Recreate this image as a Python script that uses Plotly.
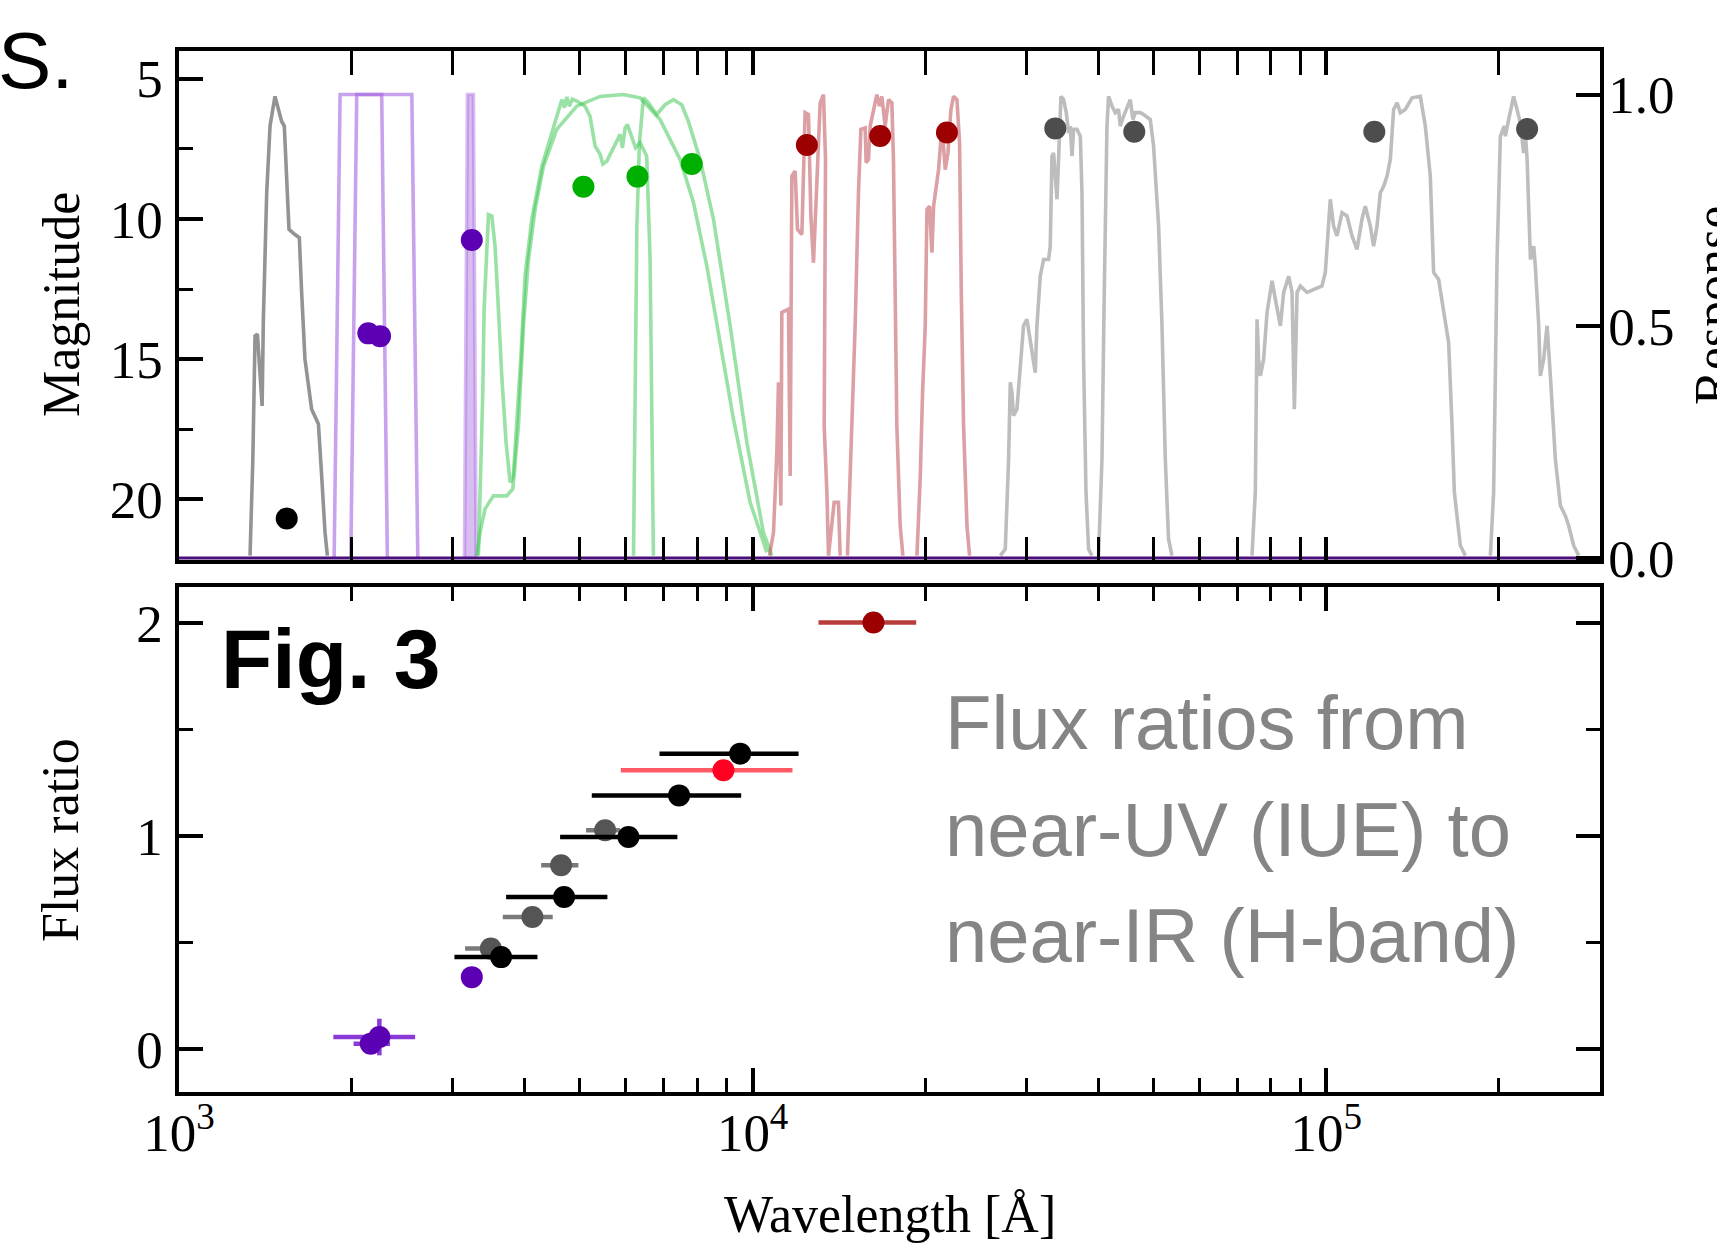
import numpy as np
import plotly.graph_objects as go

# ---------------- top panel: filter response curves (wavelength [A], response) ----------------
fuv_wl = [1330, 1345, 1357, 1370, 1396, 1403, 1422, 1441, 1470, 1490, 1510, 1526, 1541, 1555, 1593, 1621, 1636, 1658, 1703, 1750, 1773, 1797, 1814]
fuv_r = [0.005, 0.213, 0.479, 0.483, 0.328, 0.515, 0.788, 0.932, 0.996, 0.968, 0.942, 0.932, 0.802, 0.709, 0.698, 0.691, 0.573, 0.429, 0.321, 0.289, 0.177, 0.055, 0.005]

box1_wl = [1864, 1909, 2546, 2608]
box1_r = [0.0, 1.0, 1.0, 0.0]
box2_wl = [1993, 2041, 2256, 2308]
box2_r = [0.0, 1.0, 1.0, 0.0]
narrow_wl = [3145, 3183, 3260, 3296]
narrow_r = [0.0, 1.0, 1.0, 0.0]

bp_wl = [3326, 3358, 3385, 3403, 3440, 3463, 3510, 3556, 3604, 3653, 3717, 3777, 3827, 3879, 3943, 4011, 4121, 4290, 4494, 4648, 4700, 4743, 4790, 4850, 4936, 5104, 5207, 5313, 5421, 5480, 5568, 5640, 5718, 5800, 5874, 5930, 5993, 6050, 6155, 6250, 6364, 6537, 6626, 6670, 6714]
bp_r = [0.005, 0.177, 0.357, 0.537, 0.680, 0.741, 0.738, 0.673, 0.537, 0.393, 0.249, 0.163, 0.177, 0.285, 0.429, 0.608, 0.731, 0.845, 0.932, 0.989, 0.972, 0.995, 0.975, 0.990, 0.986, 0.975, 0.953, 0.889, 0.871, 0.850, 0.856, 0.872, 0.885, 0.900, 0.914, 0.885, 0.928, 0.935, 0.910, 0.885, 0.896, 0.867, 0.644, 0.357, 0.005]

rp_wl = [6199, 6240, 6283, 6348, 6451, 6582, 6805, 7035, 7275, 7523, 7727, 8098, 8544, 9137, 9770, 10442, 10801]
rp_r = [0.005, 0.357, 0.716, 0.896, 0.993, 0.982, 0.957, 0.978, 0.989, 0.978, 0.942, 0.860, 0.731, 0.501, 0.249, 0.055, 0.005]

g_wl = [3304, 3348, 3416, 3533, 3727, 3818, 3906, 3985, 4066, 4176, 4318, 4555, 4936, 5421, 5953, 6364, 6898, 7474, 7885, 8320, 8776, 9258, 9899, 10587]
g_r = [0.005, 0.055, 0.106, 0.134, 0.134, 0.149, 0.285, 0.501, 0.644, 0.752, 0.845, 0.925, 0.975, 0.996, 1.0, 0.993, 0.946, 0.860, 0.767, 0.630, 0.465, 0.300, 0.120, 0.012]

j_wl = [10698, 10872, 11021, 11092, 11199, 11243, 11547, 11625, 11705, 11860, 11972, 12184, 12346, 12512, 12634, 12765, 12904, 13113, 13289, 13397, 13327, 13471, 13559, 13870, 14113, 14208]
j_r = [0.005, 0.055, 0.228, 0.379, 0.113, 0.530, 0.537, 0.177, 0.824, 0.835, 0.709, 0.698, 0.961, 0.957, 0.738, 0.637, 0.774, 0.982, 1.0, 0.860, 0.285, 0.142, 0.005, 0.120, 0.120, 0.005]

h_wl = [14630, 14830, 15089, 15292, 15440, 15709, 15771, 15918, 16028, 16464, 16636, 16797, 17020, 17249, 17485, 17598, 17720, 17839, 18079, 18275]
h_r = [0.005, 0.213, 0.501, 0.788, 0.925, 0.928, 0.853, 0.860, 0.932, 1.0, 0.975, 0.996, 0.932, 0.989, 0.982, 0.860, 0.501, 0.285, 0.070, 0.005]

k_wl = [19338, 19598, 19779, 19994, 20129, 20343, 20536, 20673, 21091, 21380, 21667, 21898, 22166, 22397, 22704, 22946, 23104, 23318, 23637, 23884]
k_r = [0.005, 0.177, 0.357, 0.501, 0.752, 0.759, 0.659, 0.759, 0.838, 0.932, 0.838, 0.874, 0.968, 0.996, 0.989, 0.896, 0.573, 0.285, 0.070, 0.005]

w1_wl = [27019, 27566, 27937, 28125, 28314, 28500, 28886, 29662, 30070, 30476, 31093, 31301, 31722, 32148, 32799, 33020, 33249, 33464, 33922, 34142, 34473, 34833, 35212, 35539, 35785, 36032, 36265, 36761, 37255, 37506, 37748, 38114, 38511, 39040]
w1_r = [0.005, 0.019, 0.213, 0.379, 0.357, 0.307, 0.321, 0.501, 0.515, 0.465, 0.400, 0.501, 0.608, 0.644, 0.644, 0.673, 0.867, 0.874, 0.774, 0.860, 0.996, 0.989, 0.961, 0.917, 0.932, 0.867, 0.925, 0.925, 0.910, 0.788, 0.429, 0.142, 0.019, 0.005]

w2_wl = [40088, 40638, 41014, 41461, 41729, 42300, 42869, 43435, 43737, 44315, 45525, 46020, 46447, 47387, 48024, 49336, 49988, 51012, 51709, 52404, 53088, 53815]
w2_r = [0.005, 0.213, 0.573, 0.932, 0.996, 0.975, 0.961, 0.968, 0.932, 0.953, 0.989, 0.946, 0.961, 0.961, 0.957, 0.946, 0.889, 0.716, 0.501, 0.213, 0.041, 0.005]

w3_wl = [74215, 75213, 75735, 76209, 76737, 77767, 78831, 80430, 81514, 83163, 84281, 85985, 87160, 87968, 88925, 90120, 92581, 95705, 98281, 99609, 101625, 102970, 104400, 106515, 108670, 110870, 113110, 115400, 116950, 119320, 120920, 122570, 124220, 125890, 127610, 129300, 131030, 132850, 134610, 137330, 139150, 141080, 145850, 148800, 151810, 153850, 156970, 160150, 163390, 165660, 167190, 171250, 174750]
w3_r = [0.005, 0.142, 0.515, 0.429, 0.393, 0.429, 0.530, 0.598, 0.558, 0.501, 0.573, 0.608, 0.573, 0.321, 0.573, 0.587, 0.573, 0.580, 0.587, 0.616, 0.774, 0.716, 0.695, 0.745, 0.738, 0.695, 0.666, 0.731, 0.759, 0.716, 0.673, 0.716, 0.788, 0.802, 0.824, 0.860, 0.968, 0.982, 0.961, 0.968, 0.982, 0.993, 0.996, 0.932, 0.824, 0.616, 0.601, 0.537, 0.465, 0.285, 0.142, 0.027, 0.005]

w4_wl = [193200, 195760, 198440, 199720, 201100, 204200, 205150, 207900, 212100, 215000, 217900, 220800, 222300, 223900, 226900, 229900, 231400, 234600, 236100, 239300, 242600, 245800, 250800, 255900, 261000, 264500, 269900, 275400]
w4_r = [0.005, 0.142, 0.644, 0.810, 0.910, 0.932, 0.910, 0.946, 0.996, 0.968, 0.939, 0.874, 0.917, 0.860, 0.644, 0.673, 0.630, 0.501, 0.393, 0.429, 0.501, 0.393, 0.213, 0.113, 0.091, 0.070, 0.027, 0.005]

# ---------------- top panel: photometry (wavelength [A], magnitude) ----------------
phot_black_wl = [1541]
phot_black_mag = [20.68]
phot_purple_wl = [2138, 2241, 3239]
phot_purple_mag = [14.08, 14.18, 10.75]
phot_green_wl = [5070, 6298, 7833]
phot_green_mag = [8.85, 8.49, 8.04]
phot_red_wl = [12432, 16684, 21812]
phot_red_mag = [7.36, 7.04, 6.92]
phot_gray_wl = [33695, 46265, 121260, 223900]
phot_gray_mag = [6.77, 6.89, 6.89, 6.79]

# ---------------- bottom panel: flux ratios ----------------
fr_purple_wl = [2159, 2235, 3239]
fr_purple_val = [0.027, 0.058, 0.339]
fr_purple_lo = [2015, 1858, 3239]
fr_purple_hi = [2333, 2580, 3239]
fr_purple_yerr = [0.0, 0.086, 0.0]

fr_gray_wl = [3496, 4131, 4635, 5531]
fr_gray_val = [0.473, 0.621, 0.864, 1.028]
fr_gray_lo = [3153, 3668, 4279, 5124]
fr_gray_hi = [3677, 4482, 4969, 5874]

fr_black_wl = [3643, 4691, 6074, 7443, 9511]
fr_black_val = [0.433, 0.715, 0.997, 1.192, 1.388]
fr_black_lo = [3021, 3717, 4617, 5243, 6880]
fr_black_hi = [4216, 5582, 7393, 9550, 12024]

fr_red_wl = [8894]
fr_red_val = [1.31]
fr_red_lo = [5891]
fr_red_hi = [11733]

fr_dred_wl = [16240]
fr_dred_val = [2.003]
fr_dred_lo = [13024]
fr_dred_hi = [19280]

x_tickvals = [1e3, 1e4, 1e5]
x_ticktext = ["10<sup>3</sup>", "10<sup>4</sup>", "10<sup>5</sup>"]

# ---------------------------------------------------------------------------
fig = go.Figure()

PURPLE_L = "rgba(165,100,225,0.6)"
PURPLE_F = "rgba(165,100,225,0.42)"
GREEN_L = "rgba(70,200,90,0.55)"
RED_L = "rgba(190,80,90,0.55)"
GRAY_L = "#bdbdbd"


def curve(wl, r, color, width=3.6, fill=None, fillcolor=None):
    fig.add_trace(go.Scatter(
        x=wl, y=r, mode="lines", line=dict(color=color, width=width),
        fill=fill, fillcolor=fillcolor,
        xaxis="x2", yaxis="y2", hoverinfo="skip", showlegend=False))


curve(fuv_wl, fuv_r, "#939393")
curve(box1_wl, box1_r, PURPLE_L)
curve(box2_wl, box2_r, PURPLE_L)
curve(narrow_wl, narrow_r, PURPLE_F, fill="toself", fillcolor=PURPLE_F)
curve(g_wl, g_r, GREEN_L)
curve(bp_wl, bp_r, GREEN_L)
curve(rp_wl, rp_r, GREEN_L)
curve(j_wl, j_r, RED_L)
curve(h_wl, h_r, RED_L)
curve(k_wl, k_r, RED_L)
curve(w1_wl, w1_r, GRAY_L)
curve(w2_wl, w2_r, GRAY_L)
curve(w3_wl, w3_r, GRAY_L)
curve(w4_wl, w4_r, GRAY_L)
# zero baseline of the response curves
curve([1000, 300000], [0, 0], "#4a0f7a", width=3)


def phot(wl, mag, color):
    fig.add_trace(go.Scatter(
        x=wl, y=mag, mode="markers", marker=dict(color=color, size=22),
        xaxis="x2", yaxis="y3", hoverinfo="skip", showlegend=False))


phot(phot_black_wl, phot_black_mag, "#000000")
phot(phot_purple_wl, phot_purple_mag, "#5c00b4")
phot(phot_green_wl, phot_green_mag, "#00b000")
phot(phot_red_wl, phot_red_mag, "#9c0000")
phot(phot_gray_wl, phot_gray_mag, "#4d4d4d")


def ratio(wl, val, lo, hi, mcolor, ecolor, yerr=None):
    plus = [h - w for h, w in zip(hi, wl)]
    minus = [w - l for l, w in zip(lo, wl)]
    kw = {}
    if yerr is not None:
        kw["error_y"] = dict(type="data", array=yerr, color=ecolor, thickness=4.5, width=0)
    fig.add_trace(go.Scatter(
        x=wl, y=val, mode="markers", marker=dict(color=mcolor, size=22),
        error_x=dict(type="data", symmetric=False, array=plus, arrayminus=minus,
                     color=ecolor, thickness=4.5, width=0),
        xaxis="x", yaxis="y", hoverinfo="skip", showlegend=False, **kw))


ratio(fr_purple_wl, fr_purple_val, fr_purple_lo, fr_purple_hi, "#5c00b4", "#8a3ad6", fr_purple_yerr)
ratio(fr_gray_wl, fr_gray_val, fr_gray_lo, fr_gray_hi, "#555555", "#7a7a7a")
ratio(fr_black_wl, fr_black_val, fr_black_lo, fr_black_hi, "#000000", "#000000")
ratio(fr_red_wl, fr_red_val, fr_red_lo, fr_red_hi, "#ff0022", "#ff5a64")
ratio(fr_dred_wl, fr_dred_val, fr_dred_lo, fr_dred_hi, "#9c0000", "#b83c3c")

# ---------------------------------------------------------------------------
minor_log = [k * 10 ** d for d in (3, 4, 5) for k in range(2, 10) if k * 10 ** d < 3e5]
TICKFONT = dict(family="Liberation Serif, Times New Roman, serif", size=53, color="black")

xcommon = dict(
    type="log", range=[3, np.log10(3e5)], showline=True, linecolor="black", linewidth=3.5,
    mirror="allticks", ticks="inside", ticklen=24, tickwidth=3.5, tickcolor="black",
    tickvals=x_tickvals, ticktext=x_ticktext, tickfont=TICKFONT,
    minor=dict(tickvals=minor_log, ticks="inside", ticklen=14, tickwidth=2.5, tickcolor="black", showgrid=False),
    showgrid=False, zeroline=False)

ycommon = dict(showline=True, linecolor="black", linewidth=3.5, ticks="inside", ticklen=24,
               tickwidth=3.5, tickcolor="black", tickfont=TICKFONT, showgrid=False, zeroline=False)

TOP_DOM = [0.5106, 1.0]
BOT_DOM = [0.0, 0.4851]

fig.update_layout(
    width=1717, height=1243,
    margin=dict(l=179, r=117, t=51, b=151, autoexpand=False),
    paper_bgcolor="white", plot_bgcolor="rgba(0,0,0,0)",
    showlegend=False,
    font=dict(family="Liberation Serif, Times New Roman, serif", size=53, color="black"),
    xaxis=dict(**xcommon, anchor="y", domain=[0, 1], ticklabelstandoff=-8),
    xaxis2=dict(**xcommon, anchor="y2", domain=[0, 1], showticklabels=False),
    yaxis=dict(**ycommon, anchor="x", domain=BOT_DOM, range=[-0.2, 2.17], mirror="allticks",
               tickvals=[0, 1, 2], ticktext=["0", "1", "2"],
               minor=dict(tickvals=[0.5, 1.5], ticks="inside", ticklen=14, tickwidth=2.5,
                          tickcolor="black", showgrid=False),
               ticklabelstandoff=2),
    yaxis2=dict(**ycommon, anchor="x2", domain=TOP_DOM, side="right", range=[-0.0054, 1.094],
                tickvals=[0, 0.5, 1.0], ticktext=["0.0", "0.5", "1.0"], ticklabelstandoff=-6),
    yaxis3=dict(**ycommon, anchor="x2", overlaying="y2", side="left", range=[22.18, 4.01],
                tickvals=[5, 10, 15, 20], ticktext=["5", "10", "15", "20"],
                minor=dict(tickvals=[7.5, 12.5, 17.5], ticks="inside", ticklen=14, tickwidth=2.5,
                           tickcolor="black", showgrid=False),
                ticklabelstandoff=2),
)

SERIF = "Liberation Serif, Times New Roman, serif"
SANS = "Liberation Sans, Arial, Helvetica, sans-serif"
ann = [
    dict(text="Magnitude", x=-0.0830, y=0.756, textangle=-90, font=dict(family=SERIF, size=52)),
    dict(text="Response", x=1.0795, y=0.756, textangle=-90, font=dict(family=SERIF, size=52)),
    dict(text="Flux ratio", x=-0.0830, y=0.2421, textangle=-90, font=dict(family=SERIF, size=52)),
    dict(text="Wavelength [Å]", x=0.5, y=-0.1172, font=dict(family=SERIF, size=52)),
    dict(text="<b>Fig. 3</b>", x=0.028, y=0.4155, xanchor="left", font=dict(family=SANS, size=84, color="black")),
    dict(text="S.", x=-0.1288, y=0.9904, xanchor="left", font=dict(family=SANS, size=80, color="black")),
    dict(text="Flux ratios from", x=0.538, y=0.355, xanchor="left", font=dict(family=SANS, size=76, color="#858585")),
    dict(text="near-UV (IUE) to", x=0.538, y=0.2522, xanchor="left", font=dict(family=SANS, size=76, color="#858585")),
    dict(text="near-IR (H-band)", x=0.538, y=0.1508, xanchor="left", font=dict(family=SANS, size=76, color="#858585")),
]
for a in ann:
    a.setdefault("xanchor", "center")
    a.update(xref="paper", yref="paper", showarrow=False, yanchor="middle")
    fig.add_annotation(**a)

fig.write_html("out.html", config={"displayModeBar": False},
               post_script="document.body.style.margin='0';")
